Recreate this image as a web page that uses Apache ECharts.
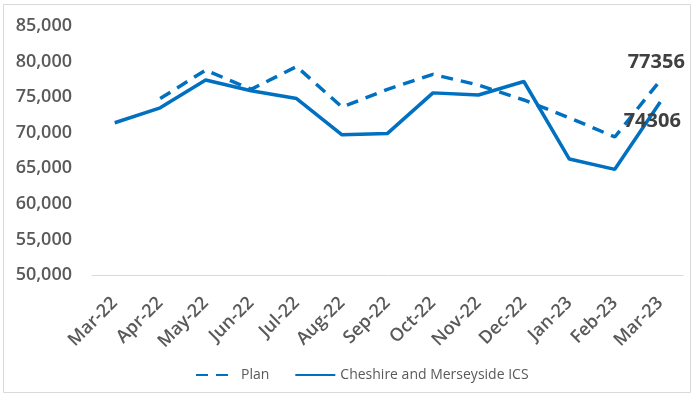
<!DOCTYPE html>
<html><head><meta charset="utf-8">
<script src="https://cdn.jsdelivr.net/npm/echarts@6/dist/echarts.min.js"></script>
<style>html,body{margin:0;padding:0;background:#fff}#c{width:693px;height:396px}</style>
</head><body><div id="c"></div>
<script>
var categories = ['Mar-22','Apr-22','May-22','Jun-22','Jul-22','Aug-22','Sep-22','Oct-22','Nov-22','Dec-22','Jan-23','Feb-23','Mar-23'];
var planValues = [null, 74800, 78800, 76100, 79300, 73600, 76100, 78200, 76700, 74600, 72100, 69400, 77356];
var actualValues = [71400, 73500, 77400, 75900, 74800, 69700, 69900, 75600, 75300, 77200, 66300, 64850, 74306];
var yTicks = {min: 50000, max: 85000, interval: 5000};

var chart = echarts.init(document.getElementById('c'), null, {renderer: 'canvas'});
var font = '"Open Sans", sans-serif';
function endLabel(offset) {
  return {show: true, formatter: '{c}', distance: 0, align: 'center', verticalAlign: 'middle',
    offset: offset, color: '#404040', fontSize: 20, fontWeight: 'bold', fontFamily: font};
}
chart.setOption({
  animation: false,
  backgroundColor: '#fff',
  graphic: [{type: 'rect', shape: {x: 3.5, y: 4.5, width: 687, height: 388}, style: {fill: 'none', stroke: '#d9d9d9', lineWidth: 1}, silent: true}],
  grid: {left: 92, right: 10, top: 26, bottom: 121},
  legend: {
    bottom: 9, left: 190, itemWidth: 40, itemHeight: 4, itemGap: 25,
    itemStyle: {opacity: 0},
    textStyle: {color: '#595959', fontSize: 14, fontFamily: font},
    data: ['Plan', 'Cheshire and Merseyside ICS']
  },
  xAxis: {
    type: 'category', data: categories, boundaryGap: true,
    axisLine: {lineStyle: {color: '#d9d9d9', width: 1}},
    axisTick: {show: false},
    axisLabel: {rotate: 45, color: '#595959', fontSize: 18, fontWeight: 600, fontFamily: font, margin: 25, interval: 0}
  },
  yAxis: {
    type: 'value', min: yTicks.min, max: yTicks.max, interval: yTicks.interval,
    splitLine: {show: false}, axisLine: {show: false}, axisTick: {show: false},
    axisLabel: {color: '#595959', fontSize: 18, fontWeight: 600, fontFamily: font, margin: 20,
      formatter: function (v) { return v.toLocaleString('en-US'); }}
  },
  series: [
    {name: 'Plan', type: 'line', data: planValues,
      showSymbol: false, symbol: 'none', connectNulls: false,
      lineStyle: {color: '#0070C0', width: 3.5, type: [12, 8], cap: 'butt'},
      itemStyle: {color: '#0070C0'},
      endLabel: endLabel([-4, -18])},
    {name: 'Cheshire and Merseyside ICS', type: 'line', data: actualValues,
      showSymbol: false, symbol: 'none',
      lineStyle: {color: '#0070C0', width: 3.5, type: 'solid'},
      itemStyle: {color: '#0070C0'},
      endLabel: endLabel([-8, 19])}
  ]
});
</script></body></html>
